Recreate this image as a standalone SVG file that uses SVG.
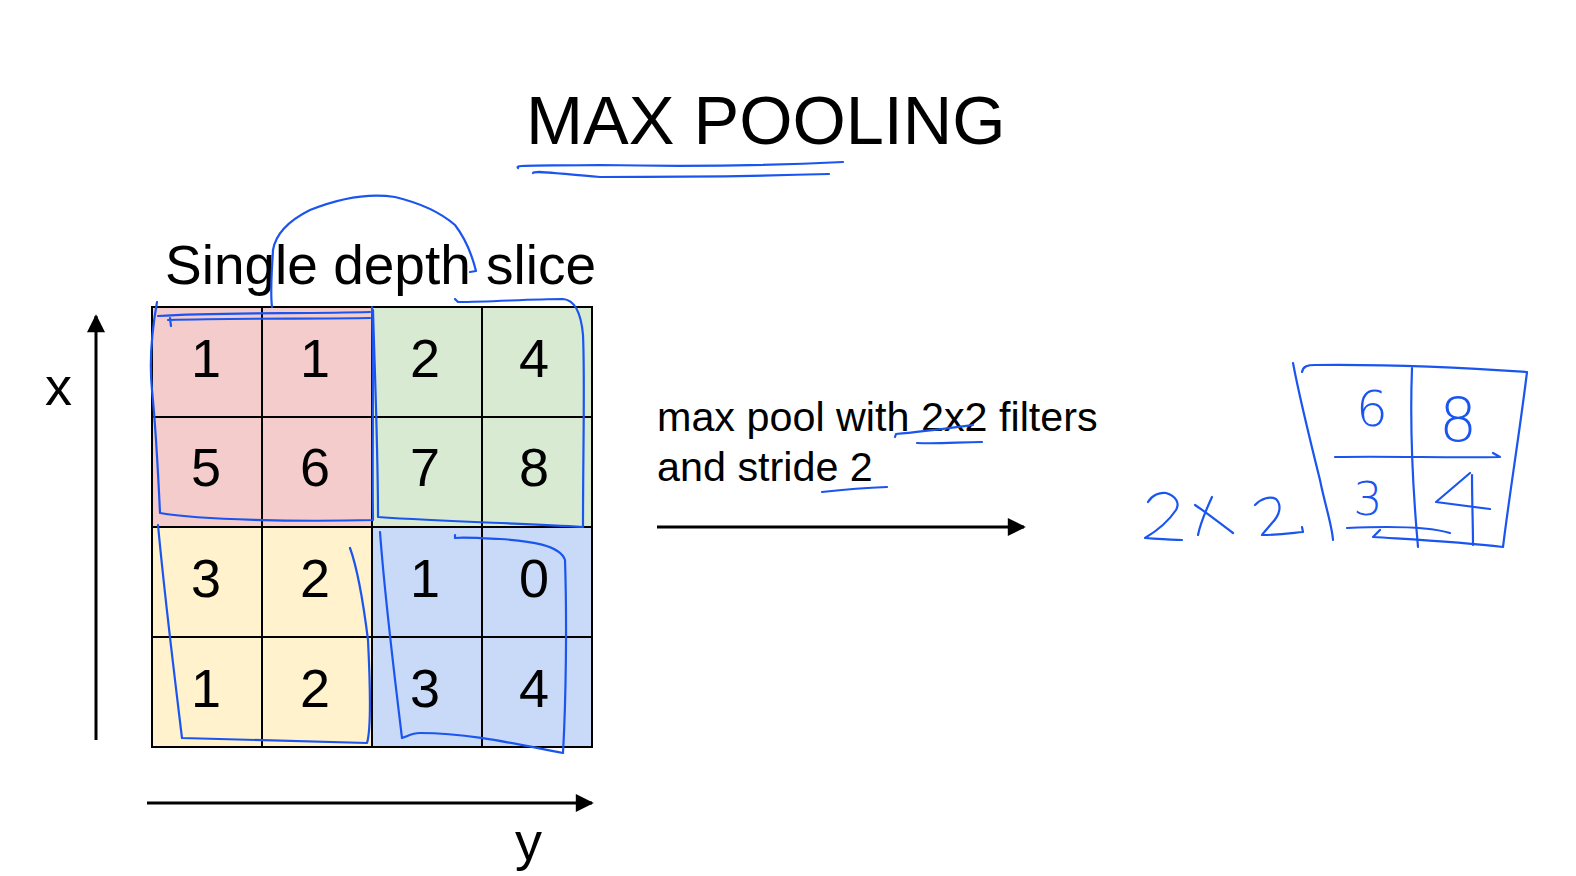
<svg xmlns="http://www.w3.org/2000/svg" width="1576" height="876" viewBox="0 0 1576 876">
<defs>
<style>
.t{font-family:"Liberation Sans",Arial,sans-serif;fill:#000}
.num{font-family:"Liberation Sans",Arial,sans-serif;font-size:54px;fill:#000;text-anchor:middle}
.grid{fill:none;stroke:#000;stroke-width:2}
.ink{fill:none;stroke:#1a55f0;stroke-width:2.2;stroke-linecap:round;stroke-linejoin:round}
.hand{font-family:"DejaVu Sans","Liberation Sans",sans-serif;font-weight:200;fill:#1a55f0;text-anchor:middle}
.ax{stroke:#000;stroke-width:3;fill:none}
</style>
<marker id="ah" viewBox="0 0 10 10" refX="9" refY="5" markerWidth="7" markerHeight="6" markerUnits="strokeWidth" orient="auto">
<path d="M0,0 L10,5 L0,10 z" fill="#000"/>
</marker>
</defs>
<rect width="1576" height="876" fill="#fff"/>

<g id="title">
<text class="t" x="526" y="144" font-size="68.5">MAX POOLING</text>
</g>
<g id="slice-label">
<text class="t" x="165" y="284" font-size="55">Single depth slice</text>
</g>

<g id="grid">
<rect x="152" y="307" width="220" height="220" fill="#f4cccc"/>
<rect x="372" y="307" width="220" height="220" fill="#d9ead3"/>
<rect x="152" y="527" width="220" height="220" fill="#fff2cc"/>
<rect x="372" y="527" width="220" height="220" fill="#c9daf8"/>
<rect class="grid" x="152" y="307" width="440" height="440"/>
<path class="grid" d="M262,307V747M372,307V747M482,307V747M152,417H592M152,527H592M152,637H592"/>
<text class="num" x="206" y="377">1</text>
<text class="num" x="315" y="377">1</text>
<text class="num" x="425" y="377">2</text>
<text class="num" x="534" y="377">4</text>
<text class="num" x="206" y="486">5</text>
<text class="num" x="315" y="486">6</text>
<text class="num" x="425" y="486">7</text>
<text class="num" x="534" y="486">8</text>
<text class="num" x="206" y="597">3</text>
<text class="num" x="315" y="597">2</text>
<text class="num" x="425" y="597">1</text>
<text class="num" x="534" y="597">0</text>
<text class="num" x="206" y="707">1</text>
<text class="num" x="315" y="707">2</text>
<text class="num" x="425" y="707">3</text>
<text class="num" x="534" y="707">4</text>
</g>

<g id="axes">
<line class="ax" x1="96" y1="740" x2="96" y2="316" marker-end="url(#ah)"/>
<text class="t" x="45" y="405" font-size="54">x</text>
<line class="ax" x1="147" y1="803" x2="592" y2="803" marker-end="url(#ah)"/>
<text class="t" x="515" y="860" font-size="54">y</text>
</g>

<g id="description">
<text class="t" x="657" y="431" font-size="41.3">max pool with 2x2 filters</text>
<text class="t" x="657" y="481" font-size="41.3">and stride 2</text>
</g>

<g id="connectors">
<line class="ax" x1="657" y1="527" x2="1024" y2="527" marker-end="url(#ah)"/>
</g>

<g id="annotations">
<path class="ink" d="M518,168 C516,165 520,166 600,165 C700,167 780,165 843,162"/>
<path class="ink" d="M533,173 C535,170 560,174 600,177 C680,177 760,176 829,174"/>
<path class="ink" d="M272,307 C270,290 272,270 273,250 C276,232 290,220 310,210 C340,198 370,193 395,197 C420,203 440,212 455,225 C465,238 472,255 476,271 L470,272"/>
<path class="ink" d="M157,302 C152,330 149,360 152,390 C156,430 158,470 160,513 C200,520 300,522 373,520 C372,450 374,380 372,307"/>
<path class="ink" d="M158,316 C220,312 300,314 370,312 M170,318 L171,326 M168,320 C240,318 310,319 370,318"/>
<path class="ink" d="M373,310 C375,380 378,450 378,517 C450,522 520,523 583,527 C583,450 585,380 583,335 C581,312 575,300 563,299 C530,299 490,302 458,302 L455,299"/>
<path class="ink" d="M158,525 C165,600 175,680 182,738 C250,740 310,742 367,743 C371,730 370,680 368,640 C363,600 358,570 350,548"/>
<path class="ink" d="M380,532 C385,600 395,680 402,738 C408,736 412,733 420,733 C470,733 520,745 563,753 C566,700 567,620 565,560 C560,545 530,541 500,539 C480,538 462,537 455,538 L455,535"/>
<path class="ink" d="M895,437 L896,434 C920,432 950,428 973,425"/>
<path class="ink" d="M917,443 C940,444 960,442 982,442"/>
<path class="ink" d="M822,492 C840,490 860,488 887,487"/>
</g>

<g id="result">
<path class="ink" d="M1293,363 C1300,400 1310,440 1320,480 C1325,505 1332,525 1333,540"/>
<path class="ink" d="M1302,372 C1303,366 1308,365 1315,365 C1400,364 1470,368 1527,372 C1520,430 1510,490 1503,547 C1460,542 1420,540 1373,537 L1380,530"/>
<path class="ink" d="M1412,368 C1410,420 1412,480 1418,547"/>
<path class="ink" d="M1335,457 C1390,456 1450,458 1500,457 L1493,453"/>
<path class="ink" d="M1347,528 C1390,526 1430,527 1450,533"/>
<path class="ink" d="M1470,473 L1436,502 L1490,509 M1472,475 C1472,500 1473,525 1473,545"/>
<text class="hand" x="1372" y="426" font-size="50">6</text>
<text class="hand" x="1458" y="441" font-size="60">8</text>
<text class="hand" x="1368" y="515" font-size="46">3</text>
<path class="ink" d="M1148,502 C1152,495 1160,492 1166,493 C1176,496 1180,503 1176,510 C1168,522 1155,532 1145,538 C1160,539 1172,540 1182,540"/>
<path class="ink" d="M1195,505 C1210,515 1222,525 1233,533 M1212,497 C1206,510 1200,525 1198,535"/>
<path class="ink" d="M1255,505 C1262,498 1270,496 1276,499 C1282,505 1280,515 1272,523 C1268,528 1264,532 1262,535 C1280,535 1292,533 1303,532 L1302,527"/>
</g>
</svg>
